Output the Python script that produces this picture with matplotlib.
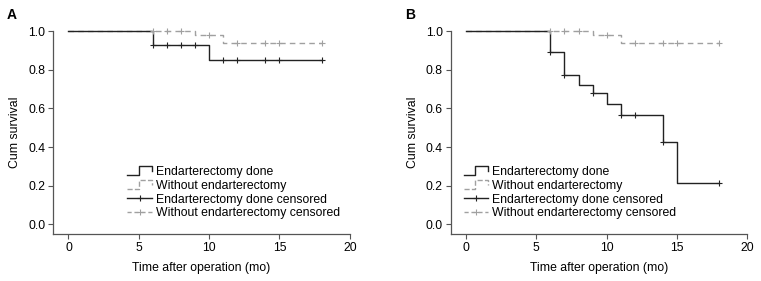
import matplotlib
matplotlib.use("Agg")
import matplotlib.pyplot as plt
from matplotlib.lines import Line2D
from matplotlib.legend_handler import HandlerBase

plt.rcParams['font.family'] = ['Liberation Sans', 'DejaVu Sans']
plt.rcParams['font.size'] = 9

# Panel A
a_done_t = [0, 6, 10, 18]
a_done_s = [1.0, 0.928, 0.852, 0.852]
a_done_cens_t = [6, 7, 8, 9, 11, 12, 14, 15, 18]
a_done_cens_s = [0.928, 0.928, 0.928, 0.928, 0.852, 0.852, 0.852, 0.852, 0.852]

a_wo_t = [0, 9, 11, 18]
a_wo_s = [1.0, 0.979, 0.94, 0.94]
a_wo_cens_t = [6, 7, 8, 10, 12, 14, 15, 18]
a_wo_cens_s = [1.0, 1.0, 1.0, 0.979, 0.94, 0.94, 0.94, 0.94]

# Panel B
b_done_t = [0, 6, 7, 8, 9, 10, 11, 14, 15, 18]
b_done_s = [1.0, 0.891, 0.771, 0.724, 0.678, 0.624, 0.565, 0.427, 0.216, 0.216]
b_done_cens_t = [6, 7, 9, 11, 12, 14, 18]
b_done_cens_s = [0.891, 0.771, 0.678, 0.565, 0.565, 0.427, 0.216]

b_wo_t = [0, 9, 11, 18]
b_wo_s = [1.0, 0.979, 0.94, 0.94]
b_wo_cens_t = [6, 7, 8, 10, 12, 14, 15, 18]
b_wo_cens_s = [1.0, 1.0, 1.0, 0.979, 0.94, 0.94, 0.94, 0.94]

labels = ["Endarterectomy done", "Without endarterectomy",
          "Endarterectomy done censored", "Without endarterectomy censored"]
xticks = [0, 5, 10, 15, 20]
yticks = [0.0, 0.2, 0.4, 0.6, 0.8, 1.0]

BLACK = "#222222"
GRAY = "#a0a0a0"
SPINE = "#555555"
FS = 8.8


class StepHandler(HandlerBase):
    def create_artists(self, legend, orig_handle, xdescent, ydescent,
                       width, height, fontsize, trans):
        x0 = -xdescent
        lo = -ydescent + 0.0 * height
        hi = -ydescent + height * 1.0
        mid = -ydescent + 0.45 * height
        xs = [x0, x0 + 0.47 * width, x0 + 0.47 * width, x0 + width, x0 + width]
        ys = [lo, lo, hi, hi, mid]
        ln = Line2D(xs, ys, color=orig_handle.get_color(),
                    linestyle=orig_handle.get_linestyle(),
                    linewidth=orig_handle.get_linewidth())
        ln.set_transform(trans)
        return [ln]


def panel(ax, done_t, done_s, dct, dcs, wo_t, wo_s, wct, wcs, leg_x):
    ax.step(wo_t, wo_s, where='post', color=GRAY, lw=1.0,
            linestyle=(0, (4, 3)), clip_on=False)
    ax.step(done_t, done_s, where='post', color=BLACK, lw=1.0,
            clip_on=False)
    ax.plot(wct, wcs, linestyle='none', marker='+', color=GRAY, ms=5,
            mew=0.8, clip_on=False)
    ax.plot(dct, dcs, linestyle='none', marker='+', color=BLACK, ms=5,
            mew=0.8, clip_on=False)
    ax.set_xlim(-1.1, 20)
    ax.set_ylim(-0.05, 1.0)
    ax.set_xticks(xticks)
    ax.set_xticklabels([str(v) for v in xticks])
    ax.set_yticks(yticks)
    ax.set_yticklabels([f"{v:.1f}" for v in yticks])
    for s in ['top', 'right']:
        ax.spines[s].set_visible(False)
    for s in ['left', 'bottom']:
        ax.spines[s].set_color(SPINE)
        ax.spines[s].set_linewidth(0.9)
    ax.tick_params(direction='out', length=3.5, width=0.8, color=SPINE,
                   labelsize=FS, pad=2)
    ax.set_xlabel("Time after operation (mo)", fontsize=FS, labelpad=6)
    ax.set_ylabel("Cum survival", fontsize=FS, labelpad=5)

    hc_done = Line2D([], [], color=BLACK, lw=1.0, marker='+', ms=5, mew=0.8)
    hc_wo = Line2D([], [], color=GRAY, lw=1.0, linestyle=(0, (3, 2)),
                   marker='+', ms=5, mew=0.8)
    hs_done = Line2D([], [], color=BLACK, lw=1.0)
    hs_wo = Line2D([], [], color=GRAY, lw=1.0, linestyle=(0, (2, 2)))
    ax.legend([hs_done, hs_wo, hc_done, hc_wo], labels,
              handler_map={hs_done: StepHandler(), hs_wo: StepHandler()},
              loc='lower left', bbox_to_anchor=(leg_x, 0.03),
              frameon=False, fontsize=FS, handlelength=2.0,
              handletextpad=0.35, labelspacing=0.15, borderpad=0.2)


fig = plt.figure(figsize=(7.61, 2.81), dpi=100)
axA = fig.add_axes([0.0696, 0.167, 0.390, 0.722])
axB = fig.add_axes([0.592, 0.167, 0.390, 0.722])

panel(axA, a_done_t, a_done_s, a_done_cens_t, a_done_cens_s,
      a_wo_t, a_wo_s, a_wo_cens_t, a_wo_cens_s, 0.222)
panel(axB, b_done_t, b_done_s, b_done_cens_t, b_done_cens_s,
      b_wo_t, b_wo_s, b_wo_cens_t, b_wo_cens_s, 0.015)

fig.text(7 / 761, 1 - 19 / 281, "A", fontsize=10, fontweight='bold')
fig.text(405 / 761, 1 - 19 / 281, "B", fontsize=10, fontweight='bold')

fig.savefig("out.png", dpi=100)
